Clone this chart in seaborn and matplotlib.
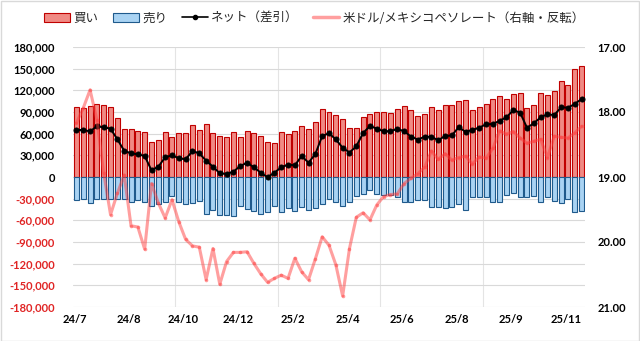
import numpy as np
import pandas as pd
import matplotlib
matplotlib.use("Agg")
import matplotlib.pyplot as plt
import seaborn as sns
from matplotlib.patches import Patch, Rectangle
from matplotlib.lines import Line2D

# ---- data (weekly) ----
buy = [96500, 95500, 97900, 101000, 99700, 96900, 81200, 66500, 66500, 63700,
       62300, 48500, 51200, 62300, 55800, 60900, 60900, 72000, 65100, 73000,
       60500, 56800, 55400, 62300, 54900, 63200, 60500, 56300, 48000, 46600,
       62300, 59100, 63200, 70200, 66000, 75700, 93700, 90000, 86300, 79900,
       67400, 67400, 82600, 86800, 89600, 89600, 88200, 94200, 98700, 92300,
       84000, 86800, 96500, 92800, 99200, 99200, 104800, 106200, 92800, 96500,
       101100, 108000, 111700, 107600, 114900, 116300, 95100, 99200, 116300, 113500,
       119100, 132500, 127000, 149500, 153700]
sell = [-32000, -31000, -35500, -30900, -30900, -31000, -30000, -31000, -34500, -32500,
        -34000, -39700, -37500, -35200, -26500, -35200, -37000, -36200, -33500, -51000,
        -46000, -52000, -52000, -54500, -40000, -44000, -47500, -50700, -49000, -40800,
        -49000, -42500, -47500, -42000, -46000, -43500, -37000, -30500, -35000, -40200,
        -34000, -25800, -23500, -17500, -23500, -25500, -25000, -27000, -34500, -34200,
        -32500, -32000, -41500, -42000, -43000, -41500, -37000, -45000, -28000, -28200,
        -28200, -34500, -34500, -24500, -22500, -27800, -27500, -25800, -34500, -27000,
        -33800, -36200, -31000, -49000, -46500]
net = [65100, 65100, 63200, 70200, 68800, 66900, 52100, 36400, 32800, 31400,
       29100, 9200, 14300, 27300, 30000, 25900, 24500, 36000, 32800, 22500,
       14300, 5100, 4200, 7400, 15200, 19800, 13400, 6000, -500, 6000,
       13400, 17100, 16200, 29100, 19800, 31800, 56800, 60500, 52100, 40500,
       33900, 42500, 61000, 70500, 67000, 63200, 63500, 66500, 63500, 56000,
       51800, 55800, 55800, 50800, 56800, 57500, 69000, 62500, 65100, 68300,
       72900, 73400, 77900, 82600, 92800, 89000, 68300, 74300, 82600, 86800,
       85800, 96500, 96000, 101100, 108000]
usdmxn = [18.17, 17.94, 17.66, 18.12, 18.94, 19.58, 19.25, 18.97, 19.75, 19.77,
          20.11, 19.10, 19.40, 19.63, 19.35, 19.69, 19.96, 20.06, 20.08, 20.58,
          20.10, 20.65, 20.30, 20.16, 20.16, 20.15, 20.33, 20.49, 20.62, 20.56,
          20.51, 20.56, 20.25, 20.46, 20.58, 20.26, 19.92, 20.05, 20.35, 20.83,
          20.10, 19.62, 19.55, 19.66, 19.43, 19.30, 19.27, 19.26, 19.10, 19.02,
          18.95, 18.85, 18.60, 18.73, 18.64, 18.74, 18.70, 18.68, 18.80, 18.69,
          18.71, 18.56, 18.29, 18.34, 18.30, 18.40, 18.48, 18.45, 18.42, 18.70,
          18.37, 18.39, 18.40, 18.32, 18.22]
x_labels = ["24/7", "24/8", "24/10", "24/12", "25/2", "25/4", "25/6", "25/8", "25/9", "25/11"]
x_label_weeks = [0, 8, 16, 24, 32, 40, 48, 56, 64, 72]
left_ticks = list(range(-180000, 180001, 30000))
right_ticks = [17, 18, 19, 20, 21]

legend_labels = ["買い", "売り", "ネット（差引）", "米ドル/メキシコペソレート（右軸・反転）"]

# ---- style ----
BUY_FC, BUY_EC = "#F08A84", "#C00000"
SELL_FC, SELL_EC = "#A9D3F3", "#1F5A8C"
MXN_C = (1.0, 0.25, 0.25)
GRID_C = "#D9D9D9"

sns.set_theme(style="white")
plt.rcParams["font.family"] = ["Lato", "Noto Sans CJK JP", "DejaVu Sans"]

df = pd.DataFrame({"week": np.arange(len(buy)), "buy": buy, "sell": sell,
                   "net": net, "usdmxn": usdmxn})

fig = plt.figure(figsize=(6.4, 3.41), dpi=100)
ax = fig.add_axes([73 / 640, 34 / 341, 512 / 640, 260 / 341])

sns.barplot(data=df, x="week", y="buy", color=BUY_FC, edgecolor=BUY_EC,
            linewidth=0.8, width=0.73, saturation=1, ax=ax, zorder=2)
sns.barplot(data=df, x="week", y="sell", color=SELL_FC, edgecolor=SELL_EC,
            linewidth=0.8, width=0.73, saturation=1, ax=ax, zorder=2)
sns.lineplot(data=df, x="week", y="net", color="black", marker="o",
             markersize=3.6, markeredgecolor="black", linewidth=1.4, ax=ax, zorder=4)

ax.set_xlim(-0.5, len(buy) - 0.5)
ax.set_ylim(-180000, 180000)
ax.set_yticks(left_ticks)
ax.set_yticklabels([f"{v:,}" for v in left_ticks])
ax.grid(axis="y", color=GRID_C, linewidth=0.8, zorder=0)
ax.set_axisbelow(True)
for xv in [14.5, 29.5, 44.5, 59.5]:
    ax.axvline(xv, color="#E4E4E4", linewidth=0.8, zorder=0)
ax.set_xticks([w - 0.3 for w in x_label_weeks])
ax.set_xticklabels(x_labels)
ax.set_xlabel("")
ax.set_ylabel("")
ax.tick_params(axis="both", length=0)
ax.tick_params(axis="y", pad=13)
ax.tick_params(axis="x", pad=5)
for lab in ax.get_xticklabels():
    lab.set_fontweight("bold"); lab.set_fontsize(8); lab.set_color("black")
for lab, v in zip(ax.get_yticklabels(), left_ticks):
    lab.set_fontweight("bold"); lab.set_fontsize(8)
    lab.set_color("#E02424" if v < 0 else "black")
for s in ax.spines.values():
    s.set_visible(False)

ax2 = ax.twinx()
sns.lineplot(data=df, x="week", y="usdmxn", color=MXN_C, alpha=0.5, linewidth=2.2,
             marker="o", markersize=2.6, markeredgewidth=0, ax=ax2)
ax2.set_ylim(21, 17)
ax2.set_yticks(right_ticks)
ax2.set_yticklabels([f"{v:.2f}" for v in right_ticks])
ax2.set_ylabel("")
ax2.tick_params(axis="y", length=0, pad=9)
for lab in ax2.get_yticklabels():
    lab.set_fontweight("bold"); lab.set_fontsize(8); lab.set_color("black")
for s in ax2.spines.values():
    s.set_visible(False)
ax2.grid(False)

handles = [
    Patch(facecolor=BUY_FC, edgecolor=BUY_EC, linewidth=0.8, label=legend_labels[0]),
    Patch(facecolor=SELL_FC, edgecolor=SELL_EC, linewidth=0.8, label=legend_labels[1]),
    Line2D([], [], color="black", marker="o", markersize=3, linewidth=1.2, label=legend_labels[2]),
    Line2D([], [], color=MXN_C, alpha=0.5, linewidth=2.5, label=legend_labels[3]),
]
fig.legend(handles=handles, loc="center left", bbox_to_anchor=(44 / 640, 1 - 18 / 341),
           ncol=4, frameon=False, prop={"family": ["Noto Sans CJK JP", "DejaVu Sans"], "size": 9},
           handlelength=2.1, handleheight=0.7, handletextpad=0.25, columnspacing=1.15,
           borderpad=0, borderaxespad=0)

fig.patches.append(Rectangle((0.5 / 640, 0.5 / 341), 1 - 1.5 / 640, 1 - 1.5 / 341,
                             transform=fig.transFigure, fill=False,
                             edgecolor="#D9D9D9", linewidth=1))

fig.savefig("out.png", dpi=100)
